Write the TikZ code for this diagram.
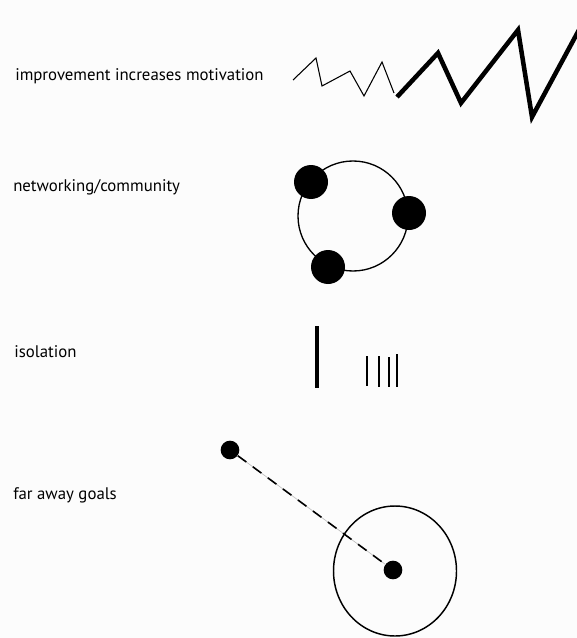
\documentclass[tikz,border=0pt]{standalone}
\usepackage{fontspec}
\setmainfont{PT Sans}

\begin{document}
\begin{tikzpicture}[x=0.75pt,y=-0.75pt,font=\fontsize{12.6}{14}\selectfont,
 lbl/.style={anchor=base west,inner sep=0pt},
 dot/.style={circle,fill=black,inner sep=0pt,minimum size=#1},
 dot/.default=25.5pt]
 \fill[black!1] (0,0) rectangle (577,638);
 \useasboundingbox (0,0) rectangle (577,638);

 % labels
 \node[lbl] (impr) at (15,81) {improvement increases motivation};
 \node[lbl] (netw) at (13,191) {networking/community};
 \node[lbl] (isol) at (14,357) {isolation};
 \node[lbl] (goal) at (13,499) {far away goals};

 % zigzag, small steps then big ones
 \draw[line width=0.8pt,line join=miter] (293,80) -- (316,58) -- (322,86) -- (350,71)
   -- (364,96) -- (382,62) -- (394,93);
 \draw[line width=3.4pt,line join=miter] (397,97) -- (438,53) -- (461,103)
   -- (518,30) -- (532,117) -- (580,28);

 % community ring
 \coordinate (ctr) at (353,216);
 \draw[line width=1pt] (ctr) circle[radius=55];
 \node[dot] (m1) at (311,182) {};
 \node[dot] (m2) at (409,213) {};
 \node[dot] (m3) at (328,267) {};

 % lone stroke and the far-off group
 \draw[line width=2.4pt] (317,326) -- (317,388);
 \foreach \x/\ya/\yb in {367/356/386,379/356/387,389/357/387,397/354/387}
   \draw[line width=1.4pt] (\x,\ya) -- (\x,\yb);

 % goal far away
 \node[dot=14pt] (far) at (230,450) {};
 \node[dot=14pt] (me) at (393,570) {};
 \draw[line width=1.1pt] (395,571) ellipse[x radius=61.5,y radius=65];
 \draw[black!25,line width=0.5pt] (far) -- (me);
 \draw[line width=1.2pt,dash pattern=on 8pt off 6pt] (far) -- (me);
\end{tikzpicture}
\end{document}
